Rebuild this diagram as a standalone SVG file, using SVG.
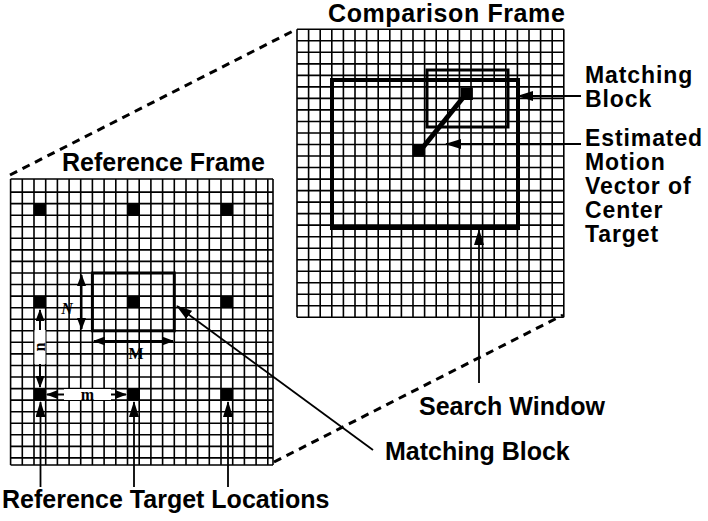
<svg xmlns="http://www.w3.org/2000/svg" width="708" height="521" viewBox="0 0 708 521">
<style>
.grid{fill:none;stroke:#000;stroke-width:1.6}
.tgt{fill:#000}
.blk{fill:none;stroke:#000;stroke-width:3}
.win{fill:none;stroke:#000;stroke-width:4}
.ptr{fill:none;stroke:#000;stroke-width:1.8}
.dim{fill:none;stroke:#000;stroke-width:2}
.dash{fill:none;stroke:#000;stroke-width:3;stroke-dasharray:8 6}
.lbl{font-family:"Liberation Sans",Arial,Helvetica,sans-serif;font-weight:bold;font-size:25px;fill:#000}
.rl{font-size:23px;letter-spacing:0.9px}
.sym{font-family:"Liberation Serif","Times New Roman",serif;font-weight:bold;font-size:16px;fill:#000}
</style>
<defs>
<marker id="ah" viewBox="0 0 16 10" refX="15" refY="5" markerWidth="16" markerHeight="10" orient="auto-start-reverse" markerUnits="userSpaceOnUse"><path d="M0,0 L16,5 L0,10 z" fill="#000"/></marker>
<marker id="as" viewBox="0 0 12 9" refX="11" refY="4.5" markerWidth="12" markerHeight="9" orient="auto-start-reverse" markerUnits="userSpaceOnUse"><path d="M0,0 L12,4.5 L0,9 z" fill="#000"/></marker>
</defs>
<rect width="708" height="521" fill="#fff"/>

<g id="reference-frame">
<path class="grid" d="M10.6 179V465M22.3 179V465M34 179V465M45.7 179V465M57.4 179V465M69.1 179V465M80.7 179V465M92.4 179V465M104.1 179V465M115.8 179V465M127.5 179V465M139.2 179V465M150.9 179V465M162.6 179V465M174.3 179V465M186 179V465M197.6 179V465M209.3 179V465M221 179V465M232.7 179V465M244.4 179V465M256.1 179V465M267.8 179V465M273 179V465
M10.6 179H273M10.6 192.1H273M10.6 203.6H273M10.6 215.2H273M10.6 226.7H273M10.6 238.3H273M10.6 249.9H273M10.6 261.4H273M10.6 273H273M10.6 284.5H273M10.6 296.1H273M10.6 307.7H273M10.6 319.2H273M10.6 330.8H273M10.6 342.3H273M10.6 353.9H273M10.6 365.5H273M10.6 377H273M10.6 388.6H273M10.6 400.1H273M10.6 411.7H273M10.6 423.3H273M10.6 434.8H273M10.6 446.4H273M10.6 457.9H273M10.6 465H273"/>
<g class="tgt">
<rect x="33.6" y="203.2" width="12.5" height="12.5"/>
<rect x="127.1" y="203.2" width="12.5" height="12.5"/>
<rect x="220.6" y="203.2" width="12.5" height="12.5"/>
<rect x="33.6" y="295.7" width="12.5" height="12.5"/>
<rect x="127.1" y="295.7" width="12.5" height="12.5"/>
<rect x="220.6" y="295.7" width="12.5" height="12.5"/>
<rect x="33.6" y="388.2" width="12.5" height="12.5"/>
<rect x="127.1" y="388.2" width="12.5" height="12.5"/>
<rect x="220.6" y="388.2" width="12.5" height="12.5"/>
</g>
<rect id="ref-matching-block" class="blk" x="92.4" y="273" width="81.9" height="57.8"/>
<g id="dim-N">
<line class="dim" x1="81.5" y1="275" x2="81.5" y2="329" marker-start="url(#as)" marker-end="url(#as)"/>
<text class="sym" x="67" y="314" text-anchor="middle" font-style="italic" font-size="19">N</text>
</g>
<g id="dim-M">
<line class="dim" x1="94" y1="341" x2="173" y2="341" marker-start="url(#as)" marker-end="url(#as)"/>
<text class="sym" x="136" y="359" text-anchor="middle" font-size="17">M</text>
</g>
<g id="dim-n">
<line class="dim" x1="40" y1="310" x2="40" y2="387" marker-start="url(#as)" marker-end="url(#as)"/>
<rect x="34.5" y="330" width="11" height="34" fill="#fff"/>
<text class="sym" x="0" y="0" text-anchor="middle" transform="translate(44.5 347) rotate(-90)">n</text>
</g>
<g id="dim-m">
<line class="dim" x1="47" y1="394.5" x2="126" y2="394.5" marker-start="url(#as)" marker-end="url(#as)"/>
<rect x="64" y="389" width="47" height="11" fill="#fff"/>
<text class="sym" x="87.5" y="400" text-anchor="middle">m</text>
</g>
<text class="lbl" x="62" y="171">Reference Frame</text>
</g>

<g id="comparison-frame">
<path class="grid" d="M297 29.3V317.3M308.6 29.3V317.3M320.2 29.3V317.3M331.8 29.3V317.3M343.4 29.3V317.3M355 29.3V317.3M366.6 29.3V317.3M378.2 29.3V317.3M389.8 29.3V317.3M401.4 29.3V317.3M413 29.3V317.3M424.6 29.3V317.3M436.2 29.3V317.3M447.8 29.3V317.3M459.4 29.3V317.3M471 29.3V317.3M482.6 29.3V317.3M494.2 29.3V317.3M505.8 29.3V317.3M517.4 29.3V317.3M529 29.3V317.3M540.6 29.3V317.3M552.2 29.3V317.3M563.8 29.3V317.3
M297 29.3H563.8M297 40.8H563.8M297 52.3H563.8M297 63.9H563.8M297 75.4H563.8M297 86.9H563.8M297 98.4H563.8M297 109.9H563.8M297 121.5H563.8M297 133H563.8M297 144.5H563.8M297 156H563.8M297 167.5H563.8M297 179.1H563.8M297 190.6H563.8M297 202.1H563.8M297 213.6H563.8M297 225.1H563.8M297 236.7H563.8M297 248.2H563.8M297 259.7H563.8M297 271.2H563.8M297 282.7H563.8M297 294.3H563.8M297 305.8H563.8M297 317.3H563.8"/>
<rect id="search-window" class="win" x="332" y="80" width="186" height="148"/>
<rect id="cmp-matching-block" class="blk" x="427" y="70" width="81" height="57"/>
<g id="motion-vector">
<line x1="420" y1="151" x2="466" y2="94" stroke="#000" stroke-width="5"/>
<rect class="tgt" x="412.6" y="144.2" width="12.5" height="12.5"/>
<rect class="tgt" x="460.4" y="87.5" width="12.5" height="12.5"/>
</g>
<text class="lbl" x="328" y="22" font-size="24" letter-spacing="0.6">Comparison Frame</text>
</g>

<g id="connectors">
<line class="dash" x1="10" y1="175" x2="297" y2="29"/>
<line class="dash" x1="274" y1="462" x2="563" y2="315"/>
<line class="ptr" x1="581" y1="96" x2="518" y2="96" marker-end="url(#ah)"/>
<line class="ptr" x1="581" y1="144" x2="446" y2="144" marker-end="url(#ah)"/>
<line class="ptr" x1="479" y1="383" x2="479" y2="230" marker-end="url(#ah)"/>
<line class="ptr" x1="373" y1="450" x2="177" y2="306" marker-end="url(#ah)"/>
<line class="ptr" x1="40.5" y1="487" x2="40.5" y2="402" marker-end="url(#ah)"/>
<line class="ptr" x1="134" y1="487" x2="134" y2="402" marker-end="url(#ah)"/>
<line class="ptr" x1="228" y1="487" x2="228" y2="402" marker-end="url(#ah)"/>
</g>

<g id="labels">
<text class="lbl rl" x="585" y="83">Matching</text>
<text class="lbl rl" x="585" y="107">Block</text>
<text class="lbl rl" x="585" y="146">Estimated</text>
<text class="lbl rl" x="585" y="170">Motion</text>
<text class="lbl rl" x="585" y="194">Vector of</text>
<text class="lbl rl" x="585" y="218">Center</text>
<text class="lbl rl" x="585" y="242">Target</text>
<text class="lbl" x="419" y="415">Search Window</text>
<text class="lbl" x="385" y="460">Matching Block</text>
<text class="lbl" x="2" y="508">Reference Target Locations</text>
</g>
</svg>
